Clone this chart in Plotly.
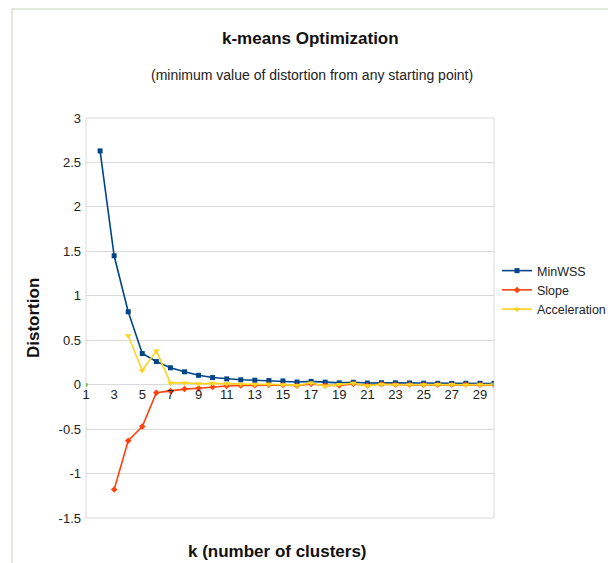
import plotly.graph_objects as go

# k values on the horizontal axis
k_all = list(range(1, 31))

# Minimum within-cluster sum of squares, k = 2..30
k_minwss = list(range(2, 31))
min_wss = [2.63, 1.45, 0.82, 0.35, 0.26, 0.19, 0.145, 0.105, 0.08, 0.065,
           0.055, 0.05, 0.046, 0.042, 0.03, 0.037, 0.028, 0.02, 0.027, 0.018,
           0.022, 0.021, 0.019, 0.017, 0.015, 0.014, 0.016, 0.015, 0.013]

# First difference of MinWSS, k = 3..30
k_slope = list(range(3, 31))
slope = [-1.18, -0.63, -0.47, -0.09, -0.07, -0.05, -0.04, -0.025, -0.015, -0.01,
         -0.007, -0.002, -0.004, -0.012, 0.007, -0.009, -0.008, 0.007, -0.009, 0.004,
         -0.001, -0.002, -0.002, -0.002, -0.001, 0.002, -0.001, -0.002]

# Second difference of MinWSS, k = 4..30
k_accel = list(range(4, 31))
acceleration = [0.55, 0.16, 0.38, 0.02, 0.02, 0.01, 0.015, 0.01, 0.005, 0.003,
                0.005, -0.002, -0.008, 0.019, -0.016, 0.001, 0.016, -0.013, 0.005, -0.001,
                0.0, 0.0, 0.001, 0.003, -0.003, -0.001, 0.0]

# Baseline points at the ends of the k range
k_base = [1, 30]
base = [0, 0]

y_ticks = [3, 2.5, 2, 1.5, 1, 0.5, 0, -0.5, -1, -1.5]
y_tick_text = ["3", "2.5", "2", "1.5", "1", "0.5", "0", "-0.5", "-1", "-1.5"]
x_ticks = list(range(1, 30, 2))

FONT = "Liberation Sans, Arial, sans-serif"

fig = go.Figure()
fig.add_trace(go.Scatter(
    x=k_minwss, y=min_wss, name="MinWSS", mode="lines+markers",
    line=dict(color="#004586", width=1.6),
    marker=dict(symbol="square", size=5, color="#004586")))
fig.add_trace(go.Scatter(
    x=k_slope, y=slope, name="Slope", mode="lines+markers",
    line=dict(color="#ff420e", width=1.6),
    marker=dict(symbol="diamond", size=5, color="#ff420e")))
fig.add_trace(go.Scatter(
    x=k_accel, y=acceleration, name="Acceleration", mode="lines+markers",
    line=dict(color="#ffd320", width=1.6),
    marker=dict(symbol="triangle-down", size=6, color="#ffd320")))
fig.add_trace(go.Scatter(
    x=k_base, y=base, name="", mode="markers", showlegend=False,
    marker=dict(symbol="circle", size=4, color="#7fc14a")))

# plot area 86..494 px horizontally, 118..518 px vertically
L, R, T, B = 86, 494, 118, 518
W, H = 608, 563
pw, ph = R - L, B - T

def px_x(x):
    return (x - L) / pw

def px_y(y):
    return (B - y) / ph

zero_pos = (0 - (-1.5)) / (3 - (-1.5))

fig.update_layout(
    width=W, height=H,
    margin=dict(l=L, r=W - R, t=T, b=H - B, pad=0, autoexpand=False),
    paper_bgcolor="white", plot_bgcolor="white",
    font=dict(family=FONT, size=13, color="#222222"),
    showlegend=True,
    legend=dict(x=px_x(497), y=px_y(290), xanchor="left", yanchor="middle",
                font=dict(family=FONT, size=12.5, color="#222222"),
                bgcolor="rgba(0,0,0,0)", itemwidth=30, tracegroupgap=0),
    xaxis=dict(range=[1, 30], tickmode="array", tickvals=x_ticks,
               showgrid=False, zeroline=False, showline=False,
               anchor="free", position=zero_pos, ticks="",
               tickfont=dict(family=FONT, size=13, color="#222222")),
    yaxis=dict(range=[-1.5, 3], tickmode="array", tickvals=y_ticks, ticktext=y_tick_text,
               showgrid=True, gridcolor="#d9d9d9", gridwidth=1,
               zeroline=True, zerolinecolor="#d9d9d9", zerolinewidth=1,
               showline=False, ticks="", ticklabelstandoff=4,
               tickfont=dict(family=FONT, size=13, color="#222222")),
    shapes=[
        dict(type="rect", xref="paper", yref="paper", x0=0, x1=1, y0=0, y1=1,
             line=dict(color="#d9d9d9", width=1), layer="below"),
        dict(type="rect", xref="paper", yref="paper",
             x0=px_x(12), x1=px_x(700), y0=px_y(700), y1=px_y(9),
             line=dict(color="#dbe4cf", width=1.5), layer="below"),
    ],
    annotations=[
        dict(text="<b>k-means Optimization</b>", xref="paper", yref="paper",
             x=px_x(310), y=px_y(38), showarrow=False, xanchor="center", yanchor="middle",
             font=dict(family=FONT, size=17, color="#111111")),
        dict(text="(minimum value of distortion from any starting point)", xref="paper", yref="paper",
             x=px_x(312), y=px_y(75), showarrow=False, xanchor="center", yanchor="middle",
             font=dict(family=FONT, size=14, color="#222222")),
        dict(text="<b>k (number of clusters)</b>", xref="paper", yref="paper",
             x=px_x(277), y=px_y(551), showarrow=False, xanchor="center", yanchor="middle",
             font=dict(family=FONT, size=17, color="#111111")),
        dict(text="<b>Distortion</b>", xref="paper", yref="paper",
             x=px_x(33), y=px_y(318), showarrow=False, xanchor="center", yanchor="middle",
             textangle=-90, font=dict(family=FONT, size=17, color="#111111")),
    ],
)

fig.write_html("out.html")
